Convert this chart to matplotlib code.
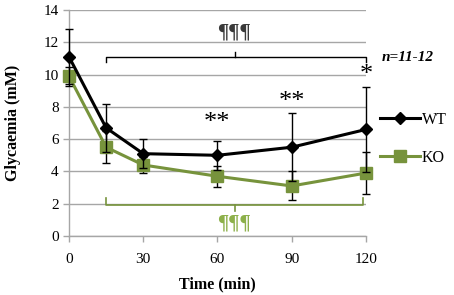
import matplotlib
matplotlib.use("Agg")
import matplotlib.pyplot as plt
from matplotlib.lines import Line2D

# --- data ---
time_min = [0, 15, 30, 60, 90, 120]
wt_mean = [11.1, 6.7, 5.1, 5.0, 5.5, 6.6]
wt_err = [1.7, 1.5, 0.9, 0.9, 2.1, 2.65]
ko_mean = [9.9, 5.5, 4.4, 3.7, 3.1, 3.9]
ko_err = [0.6, 1.0, 0.5, 0.65, 0.9, 1.3]

star_x = [60, 90, 120]
star_y = [7.0, 8.3, 10.0]
star_txt = ["**", "**", "*"]

GREEN = "#77933C"
GRID = "#A6A6A6"
SERIF = "Liberation Serif"

plt.rcParams["font.family"] = [SERIF, "DejaVu Serif"]

fig = plt.figure(figsize=(4.54, 2.95), dpi=100, facecolor="white")
ax = fig.add_axes((0.152, 0.2, 0.654, 0.766))

ax.errorbar(time_min, wt_mean, yerr=wt_err, color="black", lw=2.2,
            marker="D", ms=6, capsize=3, elinewidth=1, ecolor="black",
            capthick=1, zorder=4, clip_on=False)
ax.errorbar(time_min, ko_mean, yerr=ko_err, color=GREEN, lw=2.2,
            marker="s", ms=8, capsize=3, elinewidth=1, ecolor="black",
            capthick=1, zorder=3, clip_on=False)

ax.set_xlim(0, 120)
ax.set_ylim(0, 14)
ax.set_xticks([0, 30, 60, 90, 120])
ax.set_yticks(range(0, 15, 2))
ax.grid(axis="y", color=GRID, lw=1)
ax.set_axisbelow(True)
for s in ["top", "right"]:
    ax.spines[s].set_visible(False)
for s in ["left", "bottom"]:
    ax.spines[s].set_color(GRID)
    ax.spines[s].set_linewidth(1)
ax.tick_params(axis="both", colors=GRID, length=4, width=1, labelsize=11,
               labelcolor="black")
ax.tick_params(axis="x", pad=8)

ax.set_xlabel("Time (min)", fontweight="bold", fontsize=11.5, labelpad=8)
ax.set_ylabel("Glycaemia (mM)", fontweight="bold", fontsize=11.5, labelpad=16)

# black bracket (WT vs baseline)
ax.plot([15, 15, 120, 120], [10.75, 11.1, 11.1, 10.75], color="black", lw=1,
        clip_on=False)
ax.plot([67, 67], [11.1, 11.4], color="black", lw=1)
ax.text(66.5, 12.6, "¶¶¶", ha="center", va="center", fontsize=15,
        fontweight="bold", color="#3a3a3a")

# green bracket (KO vs baseline)
ax.plot([15, 15, 119, 119], [2.35, 1.95, 1.95, 2.35], color=GREEN, lw=1.2,
        clip_on=False)
ax.plot([67, 67], [1.95, 1.55], color=GREEN, lw=1.2)
ax.text(66.5, 0.75, "¶¶¶", ha="center", va="center", fontsize=15,
        fontweight="bold", color="#8DB04A")

for x, y, t in zip(star_x, star_y, star_txt):
    ax.text(x, y, t, ha="center", va="center", fontsize=19, color="black",
            clip_on=False)

fig.text(0.897, 0.806, "n=11-12", ha="center", va="center", fontsize=11,
         fontweight="bold", fontstyle="italic")

handles = [
    Line2D([], [], color="black", lw=2.2, marker="D", ms=6),
    Line2D([], [], color=GREEN, lw=2.2, marker="s", ms=8),
]
ax.legend(handles, ["WT", "KO"], loc="center left",
          bbox_to_anchor=(1.0, 0.43), frameon=False, fontsize=11.5,
          handlelength=2.5, handletextpad=0.1, labelspacing=1.35,
          borderaxespad=0.5)

fig.savefig("out.png", dpi=100, facecolor="white")
